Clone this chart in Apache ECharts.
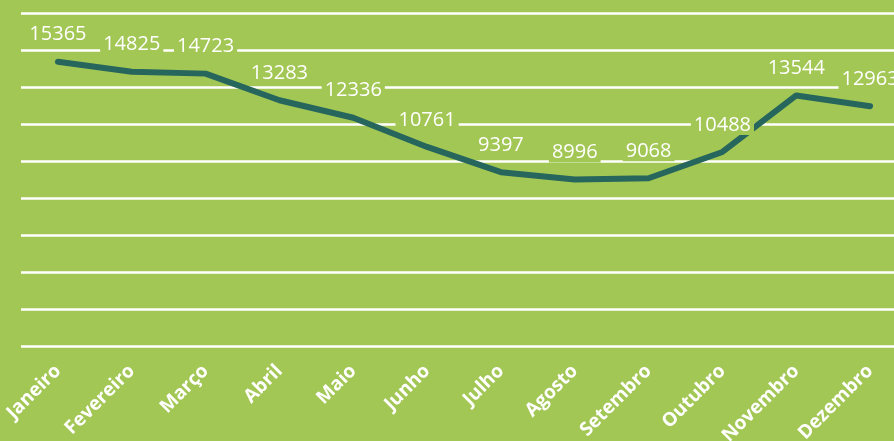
<!DOCTYPE html>
<html>
<head>
<meta charset="utf-8">
<script src="https://cdn.jsdelivr.net/npm/echarts@6/dist/echarts.min.js"></script>
<style>
html, body { margin: 0; padding: 0; background: #a2c754; }
#chart { width: 894px; height: 441px; }
</style>
</head>
<body>
<div id="chart"></div>
<script>
var months = ['Janeiro', 'Fevereiro', 'Março', 'Abril', 'Maio', 'Junho', 'Julho', 'Agosto', 'Setembro', 'Outubro', 'Novembro', 'Dezembro']
var values = [15365, 14825, 14723, 13283, 12336, 10761, 9397, 8996, 9068, 10488, 13544, 12963]

var bg = '#a2c754'
var myChart = echarts.init(document.getElementById('chart'))
myChart.setOption({
    backgroundColor: bg,
    animation: false,
    grid: { left: 21, width: 886, top: 13, bottom: 95, outerBoundsMode: 'none' },
    xAxis: {
        type: 'category',
        data: months,
        boundaryGap: true,
        axisLine: { show: false },
        axisTick: { show: false },
        axisLabel: {
            rotate: 45,
            margin: 22,
            interval: 0,
            color: '#fff',
            fontFamily: 'Open Sans',
            fontWeight: 'bold',
            fontSize: 19
        }
    },
    yAxis: {
        type: 'value',
        min: 0,
        max: 18000,
        interval: 2000,
        axisLabel: { show: false },
        axisLine: { show: false },
        axisTick: { show: false },
        splitLine: { lineStyle: { color: '#fff', width: 2.5 } }
    },
    series: [{
        type: 'line',
        data: values,
        showSymbol: true,
        symbol: 'circle',
        symbolSize: 2,
        itemStyle: { color: '#27665c' },
        lineStyle: { color: '#27665c', width: 6, cap: 'round', join: 'round' },
        label: {
            show: true,
            position: 'top',
            distance: 16,
            color: '#fff',
            fontFamily: 'Open Sans',
            fontSize: 20,
            backgroundColor: bg,
            padding: [0, 3]
        }
    }]
})
</script>
</body>
</html>
